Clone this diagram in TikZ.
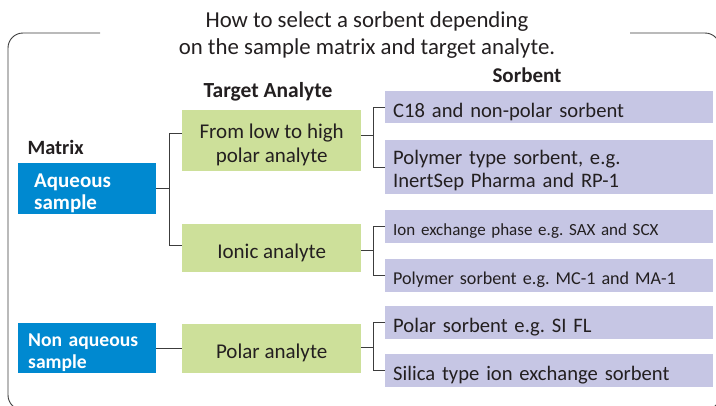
\documentclass[tikz,border=0pt]{standalone}
\usepackage{fontspec}
\setmainfont{Carlito}
\frenchspacing
\newcommand\lowr[1]{\raisebox{-4.5pt}[\height][\depth]{#1}}
\definecolor{blu}{RGB}{0,137,208}
\definecolor{grn}{RGB}{205,224,154}
\definecolor{prp}{RGB}{198,198,228}
\definecolor{ink}{RGB}{35,31,32}
\definecolor{lin}{RGB}{60,60,60}
\begin{document}
\begin{tikzpicture}[x=1pt,y=-1pt,
  every node/.style={text=ink},
  bluebox/.style={fill=blu, anchor=north west, minimum width=138pt, minimum height=51pt,
     inner ysep=0pt, align=left},
  grnbox/.style={fill=grn, anchor=north west, minimum width=179pt, inner sep=0pt,
     align=center, font=\fontsize{21}{24}\selectfont},
  prpbox/.style={fill=prp, anchor=north west, text width=312pt, inner xsep=8pt, inner ysep=0pt,
     align=left, font=\fontsize{20.6}{23}\selectfont},
  conn/.style={draw=lin, line width=1pt},
]
\useasboundingbox (0,0) rectangle (716,405);
\begin{scope}
\clip (0,0) rectangle (716,405);
\draw[lin, line width=0.9pt, rounded corners=15pt] (100,33) -- (8,33) -- (8,410) -- (720,410) -- (720,33) -- (630,33);
\end{scope}

\node[align=center, font=\fontsize{22.8}{27}\selectfont] (title) at (367,35) {How to select a sorbent depending\\on the sample matrix and target analyte.};

\node[font=\bfseries\fontsize{20.3}{22}\selectfont, anchor=west] (hmat) at (24,147) {Matrix};
\node[font=\bfseries\fontsize{21.5}{22}\selectfont] (hta) at (268,92) {Target Analyte};
\node[font=\bfseries\fontsize{21}{22}\selectfont] (hsor) at (527,75) {Sorbent};

\node[bluebox, text=white, inner xsep=16pt, text width=106pt, font=\bfseries\fontsize{21}{22}\selectfont] (aq) at (18,163) {\lowr{Aqueous}\\\lowr{sample}};
\node[bluebox, text=white, inner xsep=10pt, text width=118pt, minimum height=50pt, font=\bfseries\fontsize{19.6}{22}\selectfont] (naq) at (18,323) {\lowr{Non aqueous}\\\lowr{sample}};

\node[grnbox, minimum height=61pt] (g1) at (182,110) {\lowr{From low to high}\\\lowr{polar analyte}};
\node[grnbox, minimum height=48pt] (g2) at (182,224) {\lowr{Ionic analyte}};
\node[grnbox, minimum height=49pt] (g3) at (182,324) {\lowr{Polar analyte}};

\node[prpbox, minimum height=32pt] (p1) at (385,91) {\lowr{C18 and non-polar sorbent}};
\node[prpbox, minimum height=54pt] (p2) at (385,140) {\raisebox{-3pt}[\height][\depth]{Polymer type sorbent, e.g.}\\\raisebox{-3pt}[\height][\depth]{InertSep Pharma and RP-1}};
\node[prpbox, minimum height=33pt, font=\fontsize{17}{20}\selectfont] (p3) at (385,210) {\lowr{Ion exchange phase e.g. SAX and SCX}};
\node[prpbox, minimum height=33pt, font=\fontsize{18.1}{20}\selectfont] (p4) at (385,259) {\lowr{Polymer sorbent e.g. MC-1 and MA-1}};
\node[prpbox, minimum height=33pt] (p5) at (385,306) {\lowr{Polar sorbent e.g. SI FL}};
\node[prpbox, minimum height=33pt] (p6) at (385,354) {\lowr{Silica type ion exchange sorbent}};

% matrix -> analyte
\draw[conn] (aq.east) -- ++(13,0) coordinate (ja);
\draw[conn] ([yshift=7.5pt]g1.west) -| (ja) |- ([yshift=3pt]g2.west);
\draw[conn] (naq.east) -- (naq.east -| g3.west);

% analyte -> sorbent
\draw[conn] ([yshift=5pt]g1.east) -- ++(12,0);
\draw[conn] (p1.west) -- ++(-12,0) |- (p2.west);
\draw[conn] ([yshift=-2pt]g2.east) -- ++(12,0);
\draw[conn] (p3.west) -- ++(-12,0) |- (p4.west);
\draw[conn] ([yshift=1pt]g3.east) -- ++(12,0);
\draw[conn] (p5.west) -- ++(-12,0) |- (p6.west);
\end{tikzpicture}
\end{document}
